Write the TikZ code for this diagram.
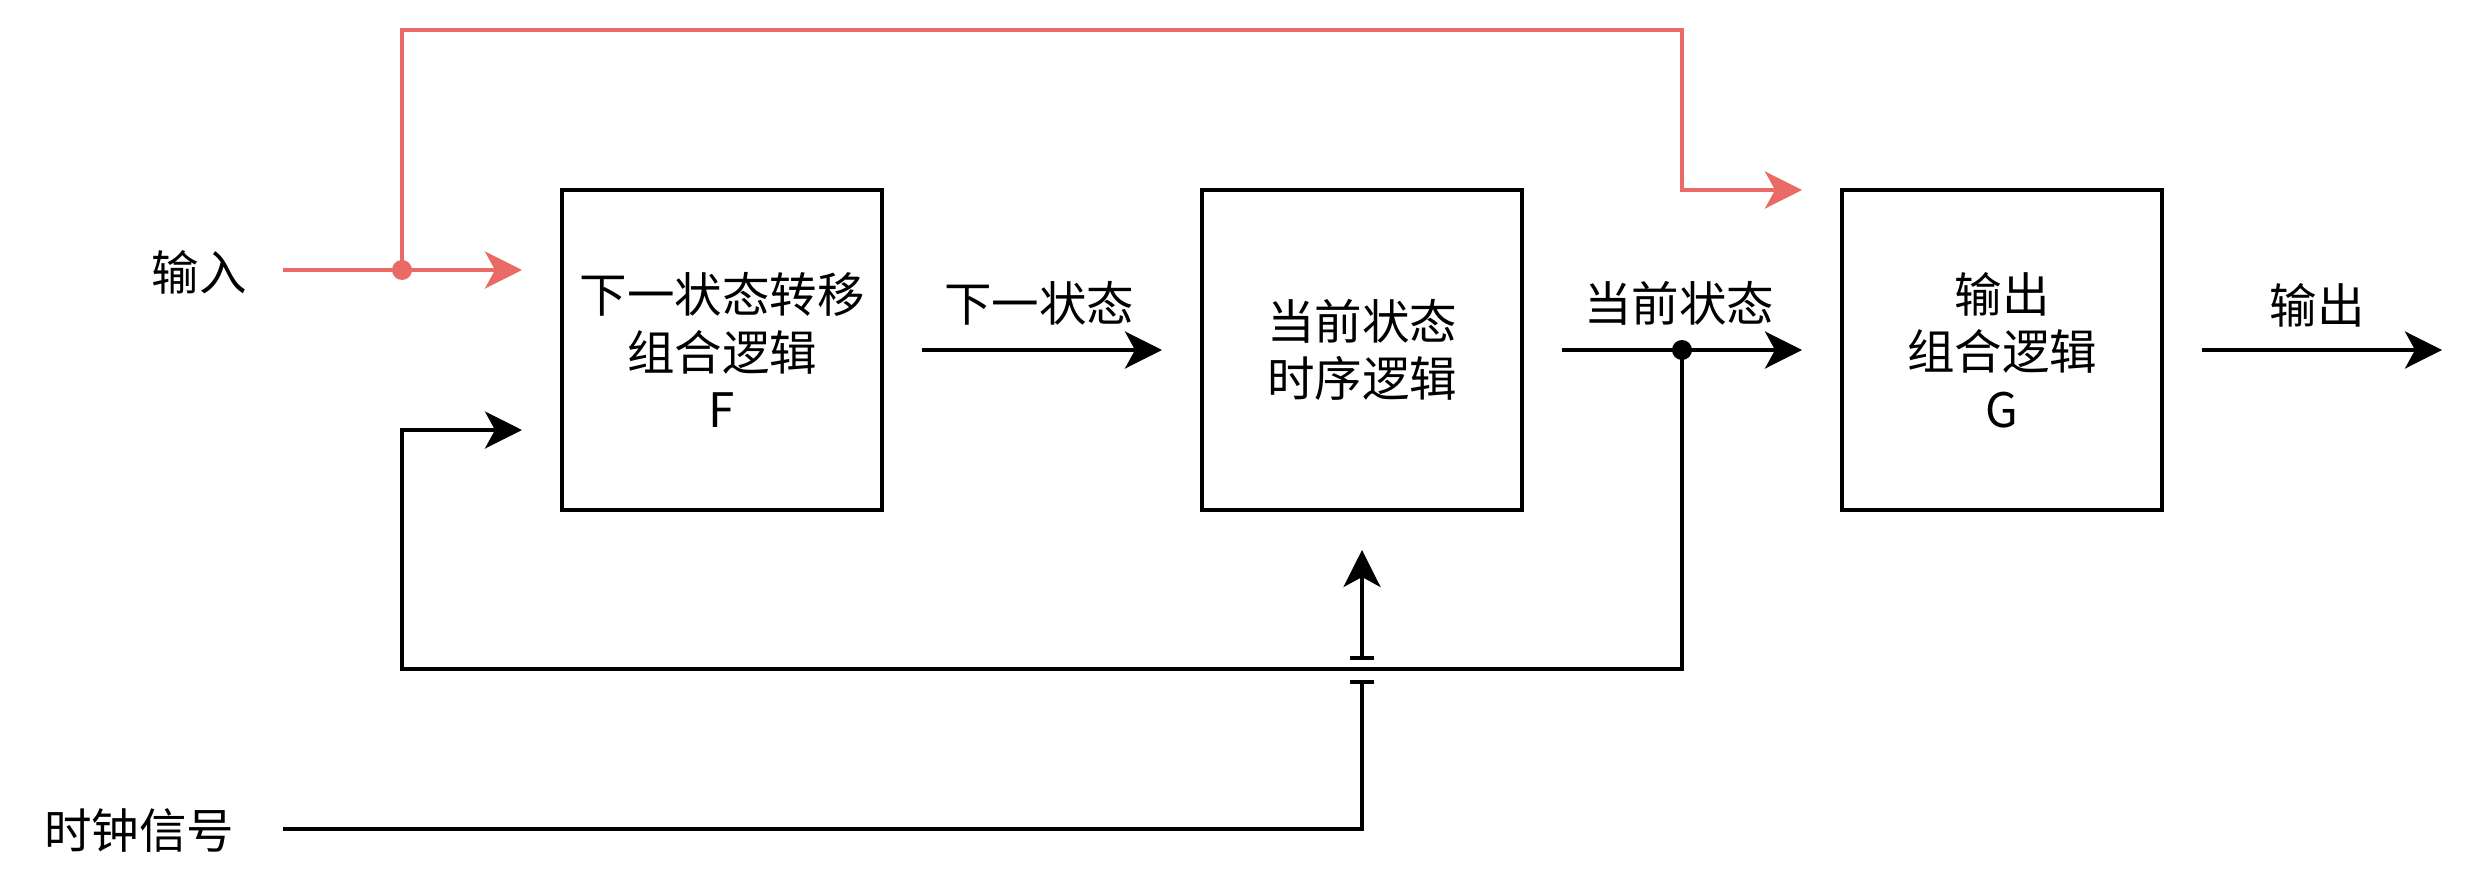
\documentclass[tikz,border=0pt]{standalone}
\usepackage{fontspec}
\setmainfont{Noto Sans CJK SC}
\usetikzlibrary{arrows.meta}
\definecolor{redline}{HTML}{EA6B66}
\begin{document}
\begin{tikzpicture}[x=1pt,y=-1pt,
  line width=4pt,
  tip/.style={-{Stealth[length=37pt,width=37pt,inset=10pt]}},
  blk/.style={draw,minimum width=320pt,minimum height=320pt,inner sep=0pt,align=center,
    font=\fontsize{47.5}{57.5}\selectfont},
  lbl/.style={inner sep=0pt,font=\fontsize{47.5}{57.5}\selectfont},
  red/.style={draw=redline,color=redline},
  bar/.style={line width=4pt}]
\useasboundingbox (0,0) rectangle (2476,872);
% boxes
\node[blk] (b1) at (722,350) {下一状态转移\\组合逻辑\\F};
\node[blk] (b2) at (1362,350) {当前状态\\时序逻辑};
\node[blk] (b3) at (2002,350) {输出\\组合逻辑\\G};
% labels
\node[lbl] (tin) at (199,272) {输入};
\node[lbl] (tclk) at (139,831) {时钟信号};
\node[lbl] (tnext) at (1039,303) {下一状态};
\node[lbl] (tcur) at (1679,303) {当前状态};
\node[lbl] (tout) at (2317,305) {输出};
% coordinates
\coordinate (inS) at (283,270);
\coordinate (j1) at (402,270);
\coordinate (inE) at (522,270);
\coordinate (r1) at (402,30);
\coordinate (r2) at (1682,30);
\coordinate (r3) at (1682,190);
\coordinate (r4) at (1802,190);
\coordinate (nS) at (922,350);
\coordinate (nE) at (1162,350);
\coordinate (cS) at (1562,350);
\coordinate (j2) at (1682,350);
\coordinate (cE) at (1802,350);
\coordinate (f1) at (1682,669);
\coordinate (f2) at (402,669);
\coordinate (f3) at (402,430);
\coordinate (fE) at (522,430);
\coordinate (kS) at (283,829);
\coordinate (k1) at (1362,829);
\coordinate (kb) at (1362,682);
\coordinate (kt) at (1362,658);
\coordinate (kE) at (1362,550);
\coordinate (oS) at (2202,350);
\coordinate (oE) at (2442,350);
% red input paths
\draw[red,tip] (inS) -- (inE);
\draw[red,tip] (j1) -- (r1) -- (r2) -- (r3) -- (r4);
\fill[redline] (j1) circle (10);
% main arrows
\draw[tip] (nS) -- (nE);
\draw[tip] (cS) -- (cE);
\draw[tip] (oS) -- (oE);
\fill (j2) circle (10);
% feedback
\draw[tip] (j2) -- (f1) -- (f2) -- (f3) -- (fE);
% clock
\draw (kS) -- (k1) -- (kb);
\draw[bar] ([xshift=-12pt]kb) -- ([xshift=12pt]kb);
\draw[bar] ([xshift=-12pt]kt) -- ([xshift=12pt]kt);
\draw[tip] (kt) -- (kE);
\end{tikzpicture}
\end{document}
